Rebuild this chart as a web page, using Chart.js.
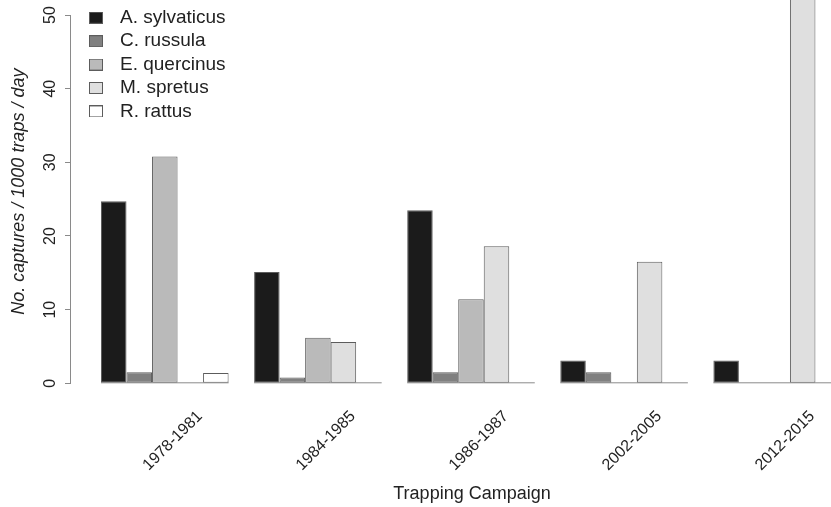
<!DOCTYPE html>
<html>
<head>
<meta charset="utf-8">
<script src="https://cdn.jsdelivr.net/npm/chart.js@4.4.0/dist/chart.umd.min.js"></script>
<style>
  html, body { margin: 0; padding: 0; overflow: hidden; background: #fff; }
  #wrap { width: 873px; height: 507px; }
</style>
</head>
<body>
<div id="wrap"><canvas id="bar-chart" width="873" height="507"></canvas></div>
<script>
const campaigns = ["1978-1981", "1984-1985", "1986-1987", "2002-2005", "2012-2015"];
const species = ["A. sylvaticus", "C. russula", "E. quercinus", "M. spretus", "R. rattus"];
const sylvaticus = [24.7, 15.1, 23.5, 3.1, 3.1];
const russula = [1.5, 0.8, 1.5, 1.5, 0];
const quercinus = [30.8, 6.2, 11.4, 0, 0];
const spretus = [0, 5.6, 18.6, 16.5, 58];
const rattus = [1.4, 0, 0, 0, 0];
const yTicks = [0, 10, 20, 30, 40, 50];

const series = [sylvaticus, russula, quercinus, spretus, rattus];
const fills = ["#1b1b1b", "#808080", "#bababa", "#dfdfdf", "#ffffff"];
const edge = "#5c5c5c";
const grey = "#8a8a8a";

Chart.defaults.font.family = "'Liberation Sans', Arial, sans-serif";
Chart.defaults.color = "#222";

// legend key: square on the right part of a small canvas, so the gap to the text is R-like
const keyBox = (fill) => {
  const c = document.createElement("canvas");
  c.width = 20;
  c.height = 12;
  const ctx = c.getContext("2d");
  ctx.fillStyle = fill;
  ctx.fillRect(6, 0, 14, 12);
  ctx.strokeStyle = edge;
  ctx.lineWidth = 1;
  ctx.strokeRect(6.5, 0.5, 13, 11);
  return c;
};
const keys = fills.map(keyBox);

// R style axis line (0..50 only) and the baseline under each group
const rAxis = {
  id: "rAxis",
  afterDatasetsDraw(chart) {
    const { ctx, chartArea } = chart;
    const y = chart.scales.y;
    const x = Math.round(chartArea.left) - 0.5;
    ctx.save();
    ctx.strokeStyle = grey;
    ctx.lineWidth = 1;
    ctx.beginPath();
    ctx.moveTo(x, Math.round(y.getPixelForValue(yTicks[0])) + 0.5);
    ctx.lineTo(x, Math.round(y.getPixelForValue(yTicks[yTicks.length - 1])) + 0.5);
    ctx.stroke();
    const first = chart.getDatasetMeta(0).data;
    const last = chart.getDatasetMeta(series.length - 1).data;
    const y0 = y.getPixelForValue(0) - 0.5;
    ctx.beginPath();
    campaigns.forEach((c, i) => {
      ctx.moveTo(first[i].x - first[i].width / 2, y0);
      ctx.lineTo(last[i].x + last[i].width / 2, y0);
    });
    ctx.stroke();
    ctx.restore();
  },
};

new Chart(document.getElementById("bar-chart"), {
  type: "bar",
  data: {
    datasets: species.map((name, k) => ({
      label: name,
      data: series[k].map((v, i) => ({ x: i, y: v })),
      backgroundColor: fills[k],
      borderColor: edge,
      borderWidth: 1,
      borderSkipped: false,
      categoryPercentage: 5 / 6,
      barPercentage: 1,
    })),
  },
  options: {
    responsive: false,
    animation: false,
    layout: { padding: 0 },
    plugins: {
      tooltip: { enabled: false },
      legend: {
        position: "chartArea",
        align: "start",
        title: { display: true, text: "", font: { size: 1, lineHeight: 1 }, padding: { top: 2.9, bottom: 0 } },
        labels: {
          usePointStyle: true,
          pointStyleWidth: 35.1,
          padding: 4.4,
          font: { size: 19 },
          generateLabels: () =>
            species.map((name, k) => ({
              text: name,
              pointStyle: keys[k],
              fillStyle: fills[k],
              strokeStyle: edge,
              lineWidth: 1,
              fontColor: "#222",
              hidden: false,
              datasetIndex: k,
            })),
        },
      },
    },
    scales: {
      x: {
        type: "linear",
        bounds: "data",
        offset: false,
        min: -0.6127,
        max: 4.626,
        grid: { display: false, drawTicks: false, offset: false },
        border: { display: false },
        afterBuildTicks: (axis) => {
          axis.ticks = campaigns.map((c, i) => ({ value: i + 0.229 }));
        },
        afterFit: (axis) => {
          axis.height = 123.7;
          axis.paddingLeft = 0;
          axis.paddingRight = 0;
        },
        ticks: {
          autoSkip: false,
          minRotation: 45,
          maxRotation: 45,
          padding: 23.7,
          font: { size: 16 },
          callback: (v, i) => campaigns[i],
        },
        title: { display: true, text: "Trapping Campaign", font: { size: 18 }, padding: { top: 0, bottom: 1.7 } },
      },
      y: {
        bounds: "data",
        min: 0,
        max: 52.04,
        grid: { drawOnChartArea: false, tickLength: 6, color: grey },
        border: { display: false },
        afterBuildTicks: (axis) => {
          axis.ticks = yTicks.map((v) => ({ value: v }));
        },
        afterFit: (axis) => {
          axis.width = 71;
          axis.paddingTop = 0;
          axis.paddingBottom = 0;
        },
        ticks: { minRotation: 90, maxRotation: 90, crossAlign: "center", padding: 5.4, font: { size: 16 } },
        title: {
          display: true,
          text: "No. captures / 1000 traps / day",
          font: { size: 18, style: "italic" },
          padding: { top: 8.2, bottom: 0 },
        },
      },
    },
  },
  plugins: [rAxis],
});
</script>
</body>
</html>
